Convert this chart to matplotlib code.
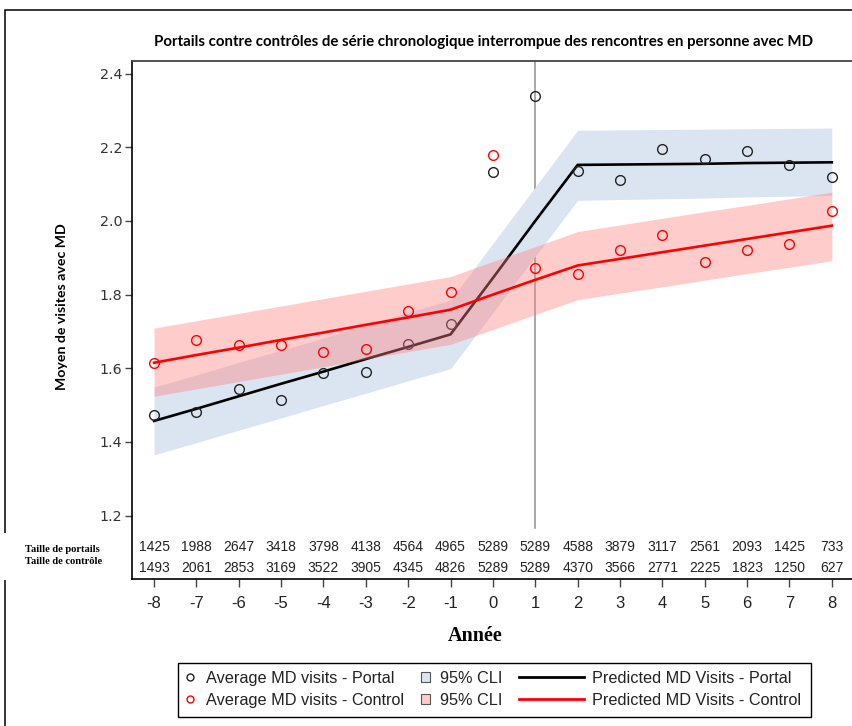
import matplotlib
matplotlib.use('Agg')
import matplotlib.pyplot as plt
from matplotlib.lines import Line2D
from matplotlib.patches import Patch, Rectangle
from matplotlib.transforms import blended_transform_factory

# years relative to portal introduction
years = [-8, -7, -6, -5, -4, -3, -2, -1, 0, 1, 2, 3, 4, 5, 6, 7, 8]

# observed averages
portal_avg = [1.473, 1.480, 1.545, 1.514, 1.586, 1.590, 1.665, 1.721, 2.132,
              2.340, 2.135, 2.112, 2.194, 2.169, 2.190, 2.152, 2.120]
control_avg = [1.615, 1.676, 1.664, 1.664, 1.643, 1.651, 1.755, 1.806, 2.178,
               1.871, 1.856, 1.921, 1.962, 1.888, 1.921, 1.937, 2.027]

# predicted values from the segmented model
portal_pred = [1.457, 1.490, 1.524, 1.558, 1.591, 1.625, 1.658, 1.692, 1.845,
               2.000, 2.152, 2.153, 2.154, 2.155, 2.157, 2.158, 2.159]
control_pred = [1.615, 1.636, 1.656, 1.677, 1.697, 1.718, 1.738, 1.759, 1.800,
                1.840, 1.879, 1.897, 1.915, 1.933, 1.951, 1.969, 1.987]

# 95% confidence limits
portal_low = [1.365, 1.398, 1.432, 1.465, 1.499, 1.532, 1.566, 1.599, 1.751,
              1.904, 2.056, 2.058, 2.060, 2.062, 2.065, 2.067, 2.069]
portal_high = [1.549, 1.582, 1.616, 1.649, 1.682, 1.718, 1.752, 1.785, 1.939,
               2.092, 2.246, 2.247, 2.248, 2.249, 2.250, 2.251, 2.252]
control_low = [1.524, 1.544, 1.564, 1.584, 1.604, 1.625, 1.645, 1.665, 1.705,
               1.746, 1.786, 1.804, 1.821, 1.839, 1.857, 1.874, 1.892]
control_high = [1.709, 1.729, 1.749, 1.769, 1.789, 1.809, 1.829, 1.849, 1.890,
                1.930, 1.971, 1.989, 2.007, 2.025, 2.042, 2.060, 2.078]

# sample sizes shown under the plot
portal_n = [1425, 1988, 2647, 3418, 3798, 4138, 4564, 4965, 5289,
            5289, 4588, 3879, 3117, 2561, 2093, 1425, 733]
control_n = [1493, 2061, 2853, 3169, 3522, 3905, 4345, 4826, 5289,
             5289, 4370, 3566, 2771, 2225, 1823, 1250, 627]

y_ticks = [1.2, 1.4, 1.6, 1.8, 2.0, 2.2, 2.4]

W, H = 853, 726
narrow = ['Liberation Sans Narrow', 'Liberation Sans', 'DejaVu Sans']
sans = ['Liberation Sans', 'DejaVu Sans']
serif = ['Liberation Serif', 'DejaVu Serif']
bold_title = ['Lato', 'DejaVu Sans']

fig = plt.figure(figsize=(W / 100, H / 100), dpi=100)

# outer frame of the original figure
frame = Rectangle((5 / W, -0.05), 1.2, (H - 9.5) / H + 0.05, transform=fig.transFigure,
                  fill=False, ec='black', lw=1.1, zorder=0)
fig.patches.append(frame)

ax = fig.add_axes([132 / W, (H - 579) / H, 721 / W, 518 / H])

# confidence bands and lines
ax.fill_between(years, portal_low, portal_high, color='#dbe4f1', lw=0, zorder=1)
ax.plot(years, portal_pred, color='black', lw=1.9, zorder=2)
ax.plot(years, portal_avg, 'o', ms=7, mfc='none', mec='#222222', mew=1.0, zorder=3)
ax.fill_between(years, control_low, control_high, color='#ff8080', alpha=0.4, lw=0, zorder=4)
ax.plot(years, control_pred, color='#ff0000', lw=1.9, zorder=5)
ax.plot(years, control_avg, 'o', ms=7, mfc='none', mec='#ff0000', mew=1.0, zorder=6)

# intervention line
ax.axvline(1, ymin=(579 - 528) / 518, ymax=1, color='#999999', lw=1.2, zorder=0.5)

ax.set_xlim(-8.52, 8.5)
ax.set_ylim(1.028, 2.434)
ax.set_yticks(y_ticks)
ax.set_yticklabels(['%.1f' % v for v in y_ticks], fontfamily='DejaVu Sans', fontsize=10.3, color='#333333')
ax.set_xticks(years)
ax.set_xticklabels([str(v) for v in years], fontfamily=narrow, fontsize=12, color='#222222')
ax.tick_params(axis='y', length=5, width=1, color='#444444', pad=2)
ax.tick_params(axis='x', length=6, width=1, color='#444444', pad=6)
ax.spines['right'].set_visible(False)
ax.spines['top'].set_color('#444444')
ax.spines['top'].set_linewidth(1.3)
ax.spines['left'].set_linewidth(1.2)
ax.spines['bottom'].set_linewidth(1.2)

# table of sample sizes inside the axes
tr = blended_transform_factory(ax.transData, ax.transAxes)
for x, a, b in zip(years, portal_n, control_n):
    ax.text(x, (579 - 547) / 518, str(a), transform=tr, ha='center', va='center',
            fontfamily=sans, fontsize=10, color='#222222')
    ax.text(x, (579 - 568) / 518, str(b), transform=tr, ha='center', va='center',
            fontfamily=sans, fontsize=10, color='#222222')

# white box hiding the frame behind the table labels
fig.patches.append(Rectangle((0, (H - 580) / H), 131 / W, 47 / H, transform=fig.transFigure,
                             fc='white', ec='none', zorder=1))
fig.text(25 / W, (H - 549) / H, 'Taille de portails', fontfamily=serif, fontweight='bold',
         fontsize=7.6, va='center', ha='left')
fig.text(25 / W, (H - 562) / H, 'Taille de contrôle', fontfamily=serif, fontweight='bold',
         fontsize=7.6, va='center', ha='left')

# titles
fig.text(484 / W, (H - 42) / H, 'Portails contre contrôles de série chronologique interrompue '
         'des rencontres en personne avec MD', fontfamily=bold_title, fontweight='bold',
         fontsize=10.8, ha='center', va='center')
fig.text(62 / W, (H - 307) / H, 'Moyen de visites avec MD', fontfamily=bold_title,
         fontweight='bold', fontsize=10.2, rotation=90, ha='center', va='center')
fig.text(475 / W, (H - 636) / H, 'Année', fontfamily=serif, fontweight='bold',
         fontsize=14.5, ha='center', va='center')

# legend, built as three columns inside one frame
fig.patches.append(Rectangle((178 / W, (H - 717) / H), 633 / W, 54 / H, transform=fig.transFigure,
                             fill=False, ec='black', lw=1, zorder=1))
leg_kw = dict(loc='upper left', frameon=False, borderpad=0, borderaxespad=0,
              labelspacing=0.42, prop={'family': sans, 'size': 11.7}, labelcolor='#222222')
h1 = [Line2D([], [], marker='o', ls='none', ms=5, mfc='none', mec='#222222', mew=1),
      Line2D([], [], marker='o', ls='none', ms=5, mfc='none', mec='#ff0000', mew=1)]
h2 = [Patch(fc='#dbe4f1', ec='#555555', lw=0.8), Patch(fc='#ffcccc', ec='#555555', lw=0.8)]
h3 = [Line2D([], [], color='black', lw=2), Line2D([], [], color='#ff0000', lw=2)]
top = (H - 671) / H
l1 = fig.legend(h1, ['Average MD visits - Portal', 'Average MD visits - Control'],
                bbox_to_anchor=(185 / W, top), handlelength=0.6,
                handletextpad=0.7, **leg_kw)
l2 = fig.legend(h2, ['95% CLI', '95% CLI'],
                bbox_to_anchor=(421 / W, top), handlelength=0.55,
                handleheight=0.55, handletextpad=0.65, **leg_kw)
l3 = fig.legend(h3, ['Predicted MD Visits - Portal', 'Predicted MD Visits - Control'],
                bbox_to_anchor=(519 / W, top), handlelength=4.0,
                handletextpad=0.5, **leg_kw)

fig.savefig('out.png', dpi=100)
